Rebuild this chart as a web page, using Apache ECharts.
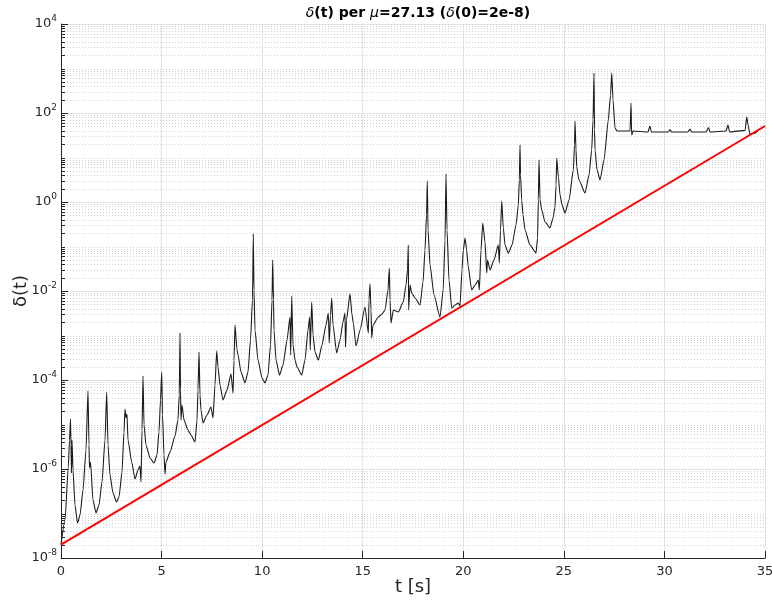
<!DOCTYPE html>
<html>
<head>
<meta charset="utf-8">
<script src="https://cdn.jsdelivr.net/npm/echarts@6/dist/echarts.min.js"></script>
<style>
  html, body { margin: 0; padding: 0; background: #ffffff; }
  #chart { width: 772px; height: 601px; }
</style>
</head>
<body>
<div id="chart"></div>
<script>
// Separation delta(t) between two nearby trajectories, mu = 27.13
const tSec = [
  0, 0.199, 0.363, 0.423, 0.472, 0.497, 0.522, 0.547, 0.597, 0.696, 0.820, 0.945, 1.094, 1.243, 1.342,
  1.392, 1.417, 1.467, 1.591, 1.740, 1.889, 2.038, 2.188, 2.272, 2.337, 2.436, 2.585, 2.759, 2.884, 3.033,
  3.132, 3.182, 3.232, 3.281, 3.331, 3.515, 3.679, 3.828, 3.928, 3.977, 4.027, 4.077, 4.127, 4.226, 4.425,
  4.624, 4.773, 4.872, 4.947, 5.007, 5.047, 5.121, 5.171, 5.220, 5.419, 5.667, 5.816, 5.881, 5.916, 5.941,
  5.966, 6.016, 6.115, 6.314, 6.463, 6.662, 6.762, 6.811, 6.861, 6.911, 6.960, 7.060, 7.259, 7.457, 7.557,
  7.656, 7.741, 7.806, 7.905, 8.054, 8.253, 8.452, 8.551, 8.601, 8.651, 8.750, 8.800, 8.949, 9.148, 9.297,
  9.421, 9.521, 9.560, 9.595, 9.645, 9.794, 9.993, 10.142, 10.291, 10.416, 10.491, 10.525, 10.565, 10.590, 10.690,
  10.864, 11.038, 11.237, 11.386, 11.420, 11.470, 11.535, 11.634, 11.734, 11.967, 12.131, 12.280, 12.365, 12.390, 12.465,
  12.529, 12.629, 12.793, 12.976, 13.175, 13.289, 13.339, 13.399, 13.459, 13.523, 13.707, 13.871, 14.020, 14.120, 14.145,
  14.194, 14.368, 14.468, 14.532, 14.667, 14.866, 15.114, 15.279, 15.313, 15.363, 15.413, 15.447, 15.512, 15.775, 15.959,
  16.109, 16.258, 16.323, 16.357, 16.407, 16.521, 16.770, 17.018, 17.153, 17.227, 17.267, 17.282, 17.352, 17.437, 17.600,
  17.849, 17.998, 18.098, 18.172, 18.212, 18.247, 18.346, 18.545, 18.843, 19.000, 19.092, 19.141, 19.191, 19.290, 19.425,
  19.589, 19.753, 19.837, 19.936, 20.001, 20.086, 20.170, 20.235, 20.419, 20.583, 20.747, 20.797, 20.881, 20.966, 21.080,
  21.165, 21.205, 21.329, 21.528, 21.741, 21.791, 21.851, 21.911, 21.991, 22.075, 22.239, 22.423, 22.622, 22.736, 22.786,
  22.821, 22.846, 22.905, 22.970, 23.069, 23.318, 23.617, 23.692, 23.731, 23.766, 23.816, 23.900, 24.064, 24.313, 24.462,
  24.561, 24.611, 24.646, 24.726, 24.810, 24.910, 25.058, 25.257, 25.471, 25.530, 25.555, 25.604, 25.639, 25.754, 26.052,
  26.251, 26.385, 26.450, 26.500, 26.525, 26.550, 26.649, 26.798, 26.997, 27.210, 27.320, 27.380, 27.444, 27.544, 27.643,
  28.04, 28.29, 28.34, 28.37, 28.44, 29.18, 29.28, 29.35, 30.18, 30.28, 30.35, 31.17, 31.27, 31.35, 32.07,
  32.19, 32.27, 33.06, 33.16, 33.24, 34.01, 34.09, 34.16, 34.25, 34.50, 34.75, 35.00
];
const delta = [
  2e-8, 7.1e-8, 1.11e-6, 4.49e-6, 1.33e-5, 3.46e-6, 8.1e-7, 4.49e-6, 9.5e-7, 1.55e-7, 6.1e-8, 9.2e-8, 3.37e-7, 2.67e-6, 5.66e-5,
  3.46e-6, 1.05e-6, 1.44e-6, 2.01e-7, 1.03e-7, 1.55e-7, 5.1e-7, 4.49e-6, 5.37e-5, 3.46e-6, 7.3e-7, 2.89e-7, 1.81e-7, 2.35e-7, 8.6e-7,
  6.8e-6, 2.23e-5, 1.40e-5, 1.72e-5, 4.49e-6, 1.44e-6, 5.96e-7, 9.5e-7, 1.17e-6, 5.1e-7, 7.5e-6, 1.23e-4, 9.75e-6, 3.46e-6, 1.77e-6,
  1.36e-6, 2.07e-6, 6.8e-6, 3.56e-5, 1.51e-4, 1.64e-5, 2.07e-6, 7.7e-7, 1.44e-6, 2.41e-6, 5.5e-6, 1.26e-5, 4.6e-5, 1.14e-3, 5.96e-5,
  1.26e-5, 2.74e-5, 1.26e-5, 7.5e-6, 5.8e-6, 4.05e-6, 1.26e-5, 5.96e-5, 4.26e-4, 4.6e-5, 2.12e-5, 1.08e-5, 1.64e-5, 2.47e-5, 1.40e-5,
  7.7e-5, 4.49e-4, 1.96e-4, 7.7e-5, 3.56e-5, 5.96e-5, 1.36e-4, 5.1e-5, 2.81e-4, 1.72e-3, 4.72e-4, 3.65e-4, 1.51e-4, 8.6e-5, 1.51e-4,
  7.9e-4, 6.3e-3, 0.191, 1.05e-2, 1.33e-3, 2.81e-4, 1.11e-4, 8.6e-5, 1.29e-4, 6.1e-4, 6.3e-3, 0.0498, 6.3e-3, 1.33e-3, 2.81e-4,
  1.29e-4, 2.17e-4, 7.9e-4, 2.61e-3, 3.65e-4, 7.7e-3, 6.1e-4, 2.81e-4, 1.96e-4, 1.29e-4, 2.81e-4, 1.33e-3, 2.61e-3, 4.72e-4, 5.66e-3,
  1.03e-3, 4.26e-4, 2.81e-4, 6.1e-4, 1.72e-3, 3.21e-3, 6.8e-4, 2.89e-3, 6.97e-3, 1.72e-3, 4.05e-4, 7.9e-4, 2.01e-3, 3.21e-3, 5.5e-4,
  2.23e-3, 8.6e-3, 2.89e-3, 1.91e-3, 5.8e-4, 1.33e-3, 4.37e-3, 1.14e-3, 6.3e-3, 1.44e-2, 3.74e-3, 8.8e-4, 1.72e-3, 2.61e-3, 3.04e-3,
  3.74e-3, 1.05e-2, 3.29e-2, 6.3e-3, 1.91e-3, 3.74e-3, 3.37e-3, 5.66e-3, 1.36e-2, 2.97e-2, 0.108, 3.74e-3, 1.36e-2, 9.0e-3, 6.97e-3,
  4.84e-3, 1.59e-2, 8.3e-2, 0.51, 2.96, 0.235, 3.84e-2, 8.1e-3, 2.61e-3, 1.05e-2, 0.14, 4.26, 0.235, 1.77e-2, 4.15e-3,
  4.84e-3, 5.37e-3, 4.6e-3, 2.97e-2, 8.3e-2, 0.155, 8.3e-2, 3.84e-2, 1.05e-2, 1.36e-2, 1.77e-2, 1.05e-2, 8.3e-2, 0.337, 0.126,
  2.54e-2, 4.98e-2, 2.97e-2, 4.98e-2, 0.108, 4.26e-2, 0.235, 1.05, 0.261, 0.108, 7.1e-2, 0.108, 0.304, 0.857, 3.12,
  19.1, 4.05, 1.11, 0.51, 0.235, 0.108, 7.1e-2, 0.155, 1.11, 8.8, 1.11, 0.66, 0.356, 0.261, 0.438,
  0.773, 2.41, 9.75, 3.65, 1.44, 0.857, 0.566, 1.11, 5.24, 19.1, 66, 14.8, 6.1, 3.12, 1.59,
  4.05, 14.8, 69.7, 792, 41.5, 14.8, 5.24, 3.12, 8.8, 69.7, 254, 792, 196, 46, 39.4,
  39.4, 39.4, 168, 32, 39.4, 37.4, 51, 37.4, 37.4, 42.6, 37.4, 37.4, 43.7, 37.4, 37.4,
  47.2, 37.4, 39.4, 53.7, 37.4, 40.8, 81, 53.7, 33.7, 35, 43.7, 51
];
// Exponential-growth reference line, drawn between its two end points
const refT = [0, 35];
const refDelta = [2e-8, 51];

const xMin = 0, xMax = 35, xStep = 5;
const yMin = 1e-8, yMax = 1e4;

const axisColor = '#262626';
const font = 'DejaVu Sans, Liberation Sans, sans-serif';

const chart = echarts.init(document.getElementById('chart'), null, { renderer: 'canvas' });

const option = {
  animation: false,
  backgroundColor: '#ffffff',
  grid: { left: 61, right: 7, top: 24, bottom: 43, containLabel: false, outerBoundsMode: 'none' },
  xAxis: {
    type: 'value',
    min: xMin, max: xMax, interval: xStep,
    name: 't [s]',
    nameLocation: 'middle',
    nameGap: 20,
    nameMoveOverlap: false,
    nameTextStyle: { fontSize: 18, color: axisColor, fontFamily: font },
    axisLine: { lineStyle: { color: axisColor, width: 1 } },
    axisTick: { inside: true, length: 7, lineStyle: { color: axisColor } },
    axisLabel: { color: axisColor, fontSize: 13, margin: 7, fontFamily: font },
    splitLine: { show: true, lineStyle: { color: '#e3e3e3', width: 1 } }
  },
  yAxis: {
    type: 'log',
    logBase: 10,
    min: yMin, max: yMax,
    interval: 2,
    name: 'δ(t)',
    nameLocation: 'middle',
    nameGap: 31,
    nameMoveOverlap: false,
    nameTextStyle: { fontSize: 18, color: axisColor, fontFamily: font },
    axisLine: { show: true, lineStyle: { color: axisColor, width: 1 } },
    axisTick: { show: true, inside: true, length: 7, lineStyle: { color: axisColor } },
    axisLabel: {
      margin: 4,
      formatter: function (v) {
        const e = Math.round(Math.log10(v));
        return '{b|10}{s|' + e + '}';
      },
      rich: {
        b: { fontSize: 13, color: axisColor, fontFamily: font },
        s: { fontSize: 9, color: axisColor, fontFamily: font, padding: [0, 0, 10, 0] }
      }
    },
    splitLine: { show: true, lineStyle: { color: '#e3e3e3', width: 1 } }
  },
  series: [
    {
      name: 'delta',
      type: 'line',
      data: tSec.map((t, i) => [t, delta[i]]),
      showSymbol: false,
      symbol: 'none',
      smooth: 0.2,
      smoothMonotone: 'x',
      lineStyle: { color: '#1c1c1c', width: 1.1 },
      z: 3
    },
    {
      name: 'reference',
      type: 'line',
      data: refT.map((t, i) => [t, refDelta[i]]),
      showSymbol: false,
      symbol: 'none',
      lineStyle: { color: '#ff0000', width: 2 },
      z: 4
    }
  ]
};

chart.setOption(option);

// Minor log grid (2..9 x 10^n, plus the unlabelled decades) and minor ticks on the y axis
const px0 = chart.convertToPixel({ xAxisIndex: 0 }, xMin);
const px1 = chart.convertToPixel({ xAxisIndex: 0 }, xMax);
const decadeLo = Math.round(Math.log10(yMin));
const decadeHi = Math.round(Math.log10(yMax));
const extras = [];
for (let n = decadeLo; n < decadeHi; n++) {
  for (let k = 1; k < 10; k++) {
    if (k === 1 && (n - decadeLo) % 2 === 0) continue;
    const y = Math.round(chart.convertToPixel({ yAxisIndex: 0 }, k * Math.pow(10, n))) + 0.5;
    extras.push({
      type: 'line', silent: true, z: 1,
      shape: { x1: px0, y1: y, x2: px1, y2: y },
      style: { stroke: '#d2d2d2', lineWidth: 1, lineDash: [1, 2] }
    });
    extras.push({
      type: 'line', silent: true, z: 10,
      shape: { x1: px0, y1: y, x2: px0 + 4, y2: y },
      style: { stroke: axisColor, lineWidth: 1 }
    });
  }
}
// Title with italic Greek symbols
extras.push({
  type: 'text', silent: true, z: 10,
  x: 418, y: 13,
  style: {
    text: '{i|δ}{b|(t) per }{i|μ}{b|=27.13 (}{i|δ}{b|(0)=2e-8)}',
    align: 'center', verticalAlign: 'middle',
    rich: {
      b: { fontSize: 14, fontWeight: 'bold', fill: '#000000', fontFamily: font },
      i: { fontSize: 14, fontStyle: 'italic', fill: '#000000', fontFamily: font }
    }
  }
});
chart.setOption({ graphic: extras });
</script>
</body>
</html>
